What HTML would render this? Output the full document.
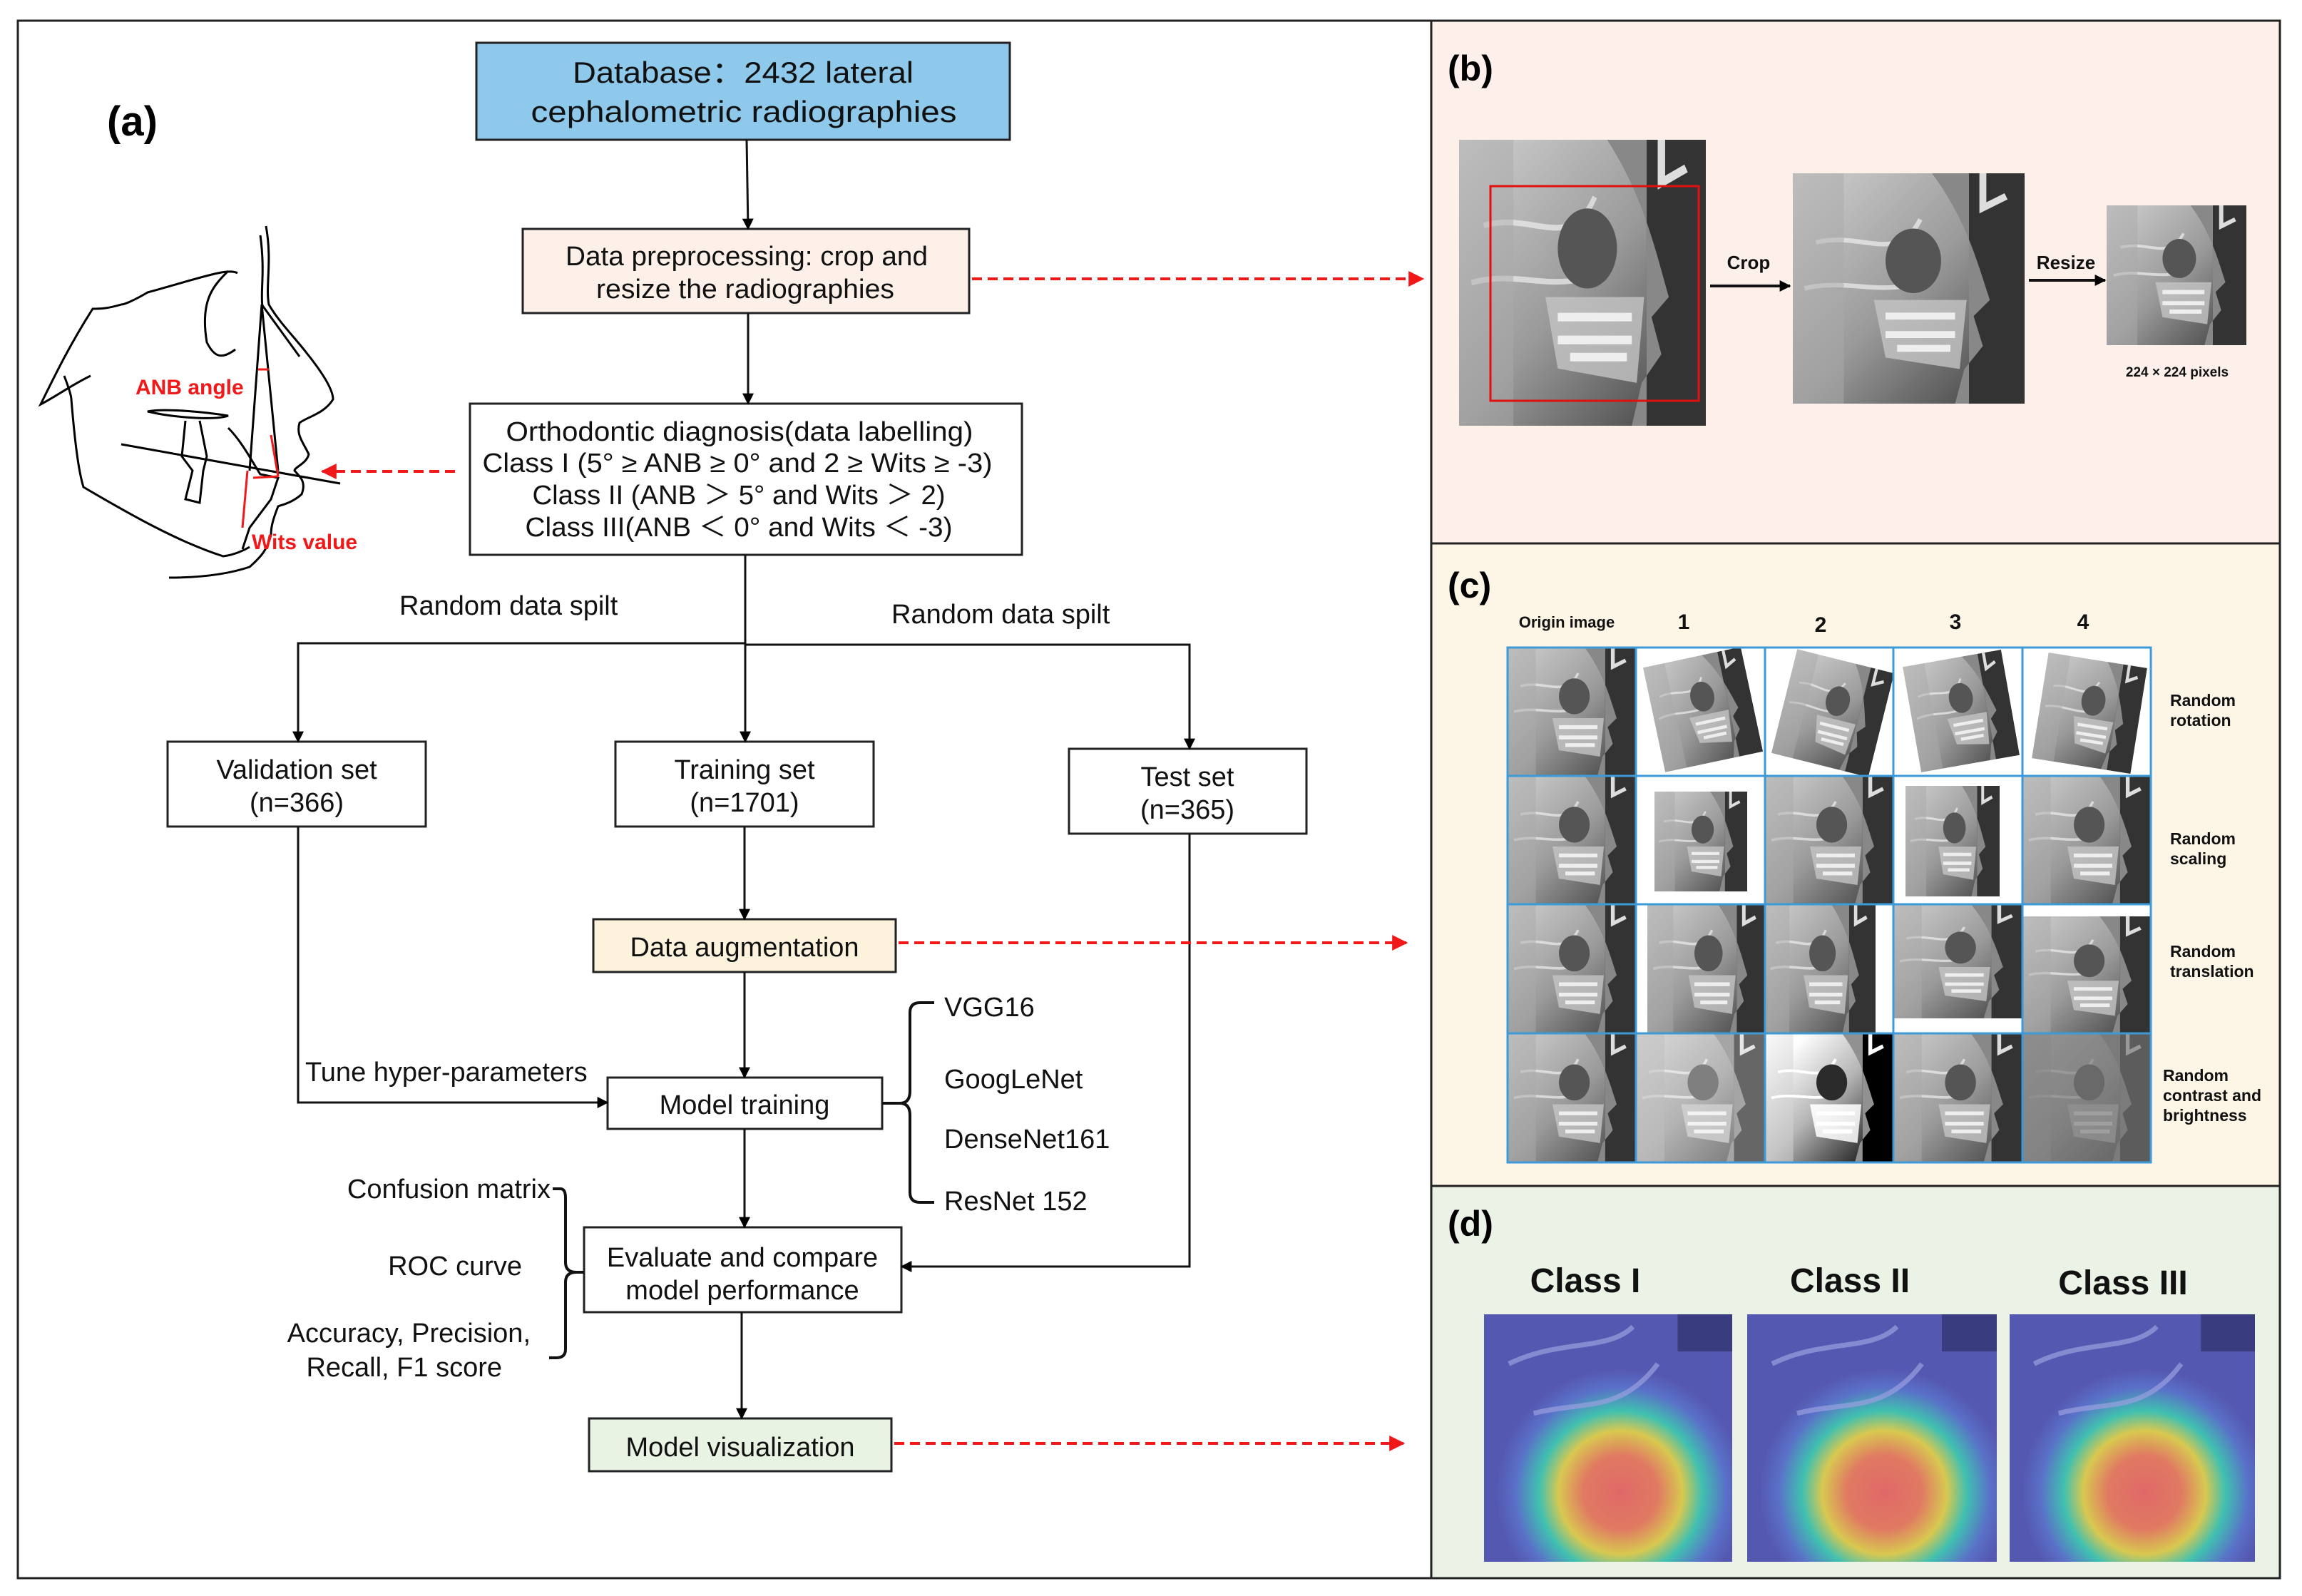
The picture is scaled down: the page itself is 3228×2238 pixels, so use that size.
<!DOCTYPE html>
<html><head><meta charset="utf-8"><style>html,body{margin:0;padding:0;background:#fff}svg{display:block}</style></head>
<body>
<svg width="3228" height="2238" viewBox="0 0 3228 2238" xmlns="http://www.w3.org/2000/svg" font-family="'Liberation Sans Narrow','Liberation Sans',sans-serif">
<defs>
<marker id="ak" viewBox="0 0 10 10" refX="9" refY="5" markerWidth="16" markerHeight="16" markerUnits="userSpaceOnUse" orient="auto"><path d="M0,0L10,5L0,10z" fill="#000"/></marker>
<marker id="ar" viewBox="0 0 10 10" refX="9" refY="5" markerWidth="22" markerHeight="22" markerUnits="userSpaceOnUse" orient="auto"><path d="M0,0L10,5L0,10z" fill="#f01818"/></marker>
<linearGradient id="xg" x1="0" y1="0" x2="1" y2="1"><stop offset="0" stop-color="#d0d0d0"/><stop offset="0.5" stop-color="#9a9a9a"/><stop offset="1" stop-color="#3a3a3a"/></linearGradient>
<radialGradient id="hm" cx="0.55" cy="0.72" r="0.5"><stop offset="0" stop-color="#e06868"/><stop offset="0.3" stop-color="#e07a62"/><stop offset="0.5" stop-color="#d8c850"/><stop offset="0.66" stop-color="#40c0b0"/><stop offset="0.85" stop-color="#5a70c8"/><stop offset="1" stop-color="#5558b0"/></radialGradient>
<symbol id="xr" viewBox="0 0 100 100" preserveAspectRatio="none">
<rect width="100" height="100" fill="url(#xg)"/>
<rect x="76" y="0" width="24" height="100" fill="#333"/>
<path d="M60,0 C75,20 80,40 85,55 L78,62 L82,75 L74,85 L70,100 L76,100 L76,0z" fill="#888"/>
<path d="M10,30 C30,25 45,40 55,20 M5,50 C25,45 40,55 60,45" stroke="#eee" stroke-width="2" fill="none" opacity="0.7"/>
<ellipse cx="52" cy="38" rx="12" ry="14" fill="#555"/>
<path d="M35,55 L75,55 L72,85 L40,80z" fill="#c4c4c4" opacity="0.8"/>
<path d="M40,62 L70,62 M40,70 L70,70 M45,76 L68,76" stroke="#eee" stroke-width="3"/>
<rect x="0" y="0" width="22" height="100" fill="#aaa" opacity="0.5"/>
<path d="M82,0 L82,15 L92,10" stroke="#ddd" stroke-width="3" fill="none"/>
</symbol>
<symbol id="hmap" viewBox="0 0 100 100" preserveAspectRatio="none">
<rect width="100" height="100" fill="url(#hm)"/>
<path d="M10,20 C30,10 50,15 60,5 M20,40 C40,35 55,40 70,20" stroke="#9aa0e0" stroke-width="2" fill="none" opacity="0.7"/>
<rect x="78" y="0" width="22" height="15" fill="#3a3c80"/>
</symbol>
</defs>

<rect x="25" y="29" width="1982" height="2184" fill="#fff" stroke="#222" stroke-width="3"/>
<rect x="2007" y="29" width="1190" height="733" fill="#fdf0ea" stroke="#222" stroke-width="3"/>
<rect x="2007" y="762" width="1190" height="901" fill="#fdf6e6" stroke="#222" stroke-width="3"/>
<rect x="2007" y="1663" width="1190" height="550" fill="#eaf3e6" stroke="#222" stroke-width="3"/>

<text x="150" y="190" font-family="'Liberation Sans',sans-serif" font-weight="bold" font-size="58">(a)</text>

<g fill="none" stroke="#000" stroke-width="3">
<path d="M373,317 C382,367 372,400 377,427 C390,450 413,473 430,495 C450,520 467,545 467,560 C455,580 430,585 420,593 C415,610 425,620 433,637 C430,650 413,655 413,660 C420,668 430,675 423,693 C410,705 395,708 390,710 C382,730 380,740 380,750 C375,770 367,780 350,795 C320,805 280,810 237,810"/>
<path d="M365,330 C372,380 365,410 368,430"/>
<path d="M333,383 C320,375 280,390 207,410 C190,420 175,427 170,427 C150,433 140,433 130,433 C100,480 80,520 57,567 C80,555 100,540 127,527"/>
<path d="M320,380 C300,400 280,420 290,480 C300,500 310,505 330,490"/>
<path d="M90,527 C95,540 100,555 100,560 C105,620 110,660 117,683 C180,720 250,760 313,780 C330,778 345,770 350,767"/>
<path d="M170,623 L477,678"/>
<path d="M367,427 L350,660 M367,427 L390,660 M367,427 L420,500"/>
<path d="M207,577 C230,572 290,578 320,583 C300,590 240,585 207,577z"/>
<path d="M260,590 L255,640 L270,660 L260,700 L280,705 L285,660 L290,640 L280,590"/>
<path d="M320,600 C340,620 355,650 365,665 L390,670 L380,700 L350,740 L340,770"/>
</g>
<g stroke="#f01818" stroke-width="3" fill="none"><path d="M355,670 L390,668 M380,610 L390,668 M347,660 L340,740 M362,518 L377,518"/></g>
<text x="190" y="553" fill="#f01818" font-family="'Liberation Sans',sans-serif" font-weight="bold" font-size="30">ANB angle</text>
<text x="353" y="770" fill="#f01818" font-family="'Liberation Sans',sans-serif" font-weight="bold" font-size="30">Wits value</text>

<g stroke="#222" stroke-width="3">
<rect x="668" y="60" width="748" height="136" fill="#8ec8ea"/>
<rect x="733" y="321" width="626" height="118" fill="#fdf0e8"/>
<rect x="659" y="566" width="774" height="212" fill="#fff"/>
<rect x="235" y="1040" width="362" height="119" fill="#fff"/>
<rect x="863" y="1040" width="362" height="119" fill="#fff"/>
<rect x="1499" y="1050" width="333" height="119" fill="#fff"/>
<rect x="832" y="1289" width="424" height="74" fill="#fdf3dc"/>
<rect x="852" y="1511" width="385" height="72" fill="#fff"/>
<rect x="819" y="1721" width="445" height="119" fill="#fff"/>
<rect x="826" y="1989" width="424" height="74" fill="#e8f3e4"/>
</g>
<g font-size="42" text-anchor="middle" fill="#111">
<text x="1042" y="116" textLength="478" lengthAdjust="spacingAndGlyphs">Database：2432 lateral</text>
<text x="1043" y="171" textLength="597" lengthAdjust="spacingAndGlyphs">cephalometric radiographies</text>
</g>
<g font-size="38" text-anchor="middle" fill="#111">
<text x="1047" y="372" textLength="508" lengthAdjust="spacingAndGlyphs">Data preprocessing: crop and</text>
<text x="1045" y="418" textLength="418" lengthAdjust="spacingAndGlyphs">resize the radiographies</text>
<text x="1037" y="618" textLength="655" lengthAdjust="spacingAndGlyphs">Orthodontic diagnosis(data labelling)</text>
<text x="1034" y="662" textLength="715" lengthAdjust="spacingAndGlyphs">Class I (5° ≥ ANB ≥ 0° and 2 ≥ Wits ≥ -3)</text>
<text x="1036" y="707" textLength="579" lengthAdjust="spacingAndGlyphs">Class II (ANB ＞ 5° and Wits ＞ 2)</text>
<text x="1036" y="752" textLength="599" lengthAdjust="spacingAndGlyphs">Class III(ANB ＜ 0° and Wits ＜ -3)</text>
<text x="416" y="1092">Validation set</text>
<text x="416" y="1138">(n=366)</text>
<text x="1044" y="1092">Training set</text>
<text x="1044" y="1138">(n=1701)</text>
<text x="1665" y="1102">Test set</text>
<text x="1665" y="1148">(n=365)</text>
<text x="1044" y="1341">Data augmentation</text>
<text x="1044" y="1562">Model training</text>
<text x="1041" y="1776">Evaluate and compare</text>
<text x="1041" y="1822">model performance</text>
<text x="1038" y="2042">Model visualization</text>
</g>
<g font-size="38" fill="#111">
<text x="560" y="862">Random data spilt</text>
<text x="1250" y="874">Random data spilt</text>
<text x="428" y="1516">Tune hyper-parameters</text>
<text x="1324" y="1425">VGG16</text>
<text x="1324" y="1526">GoogLeNet</text>
<text x="1324" y="1610">DenseNet161</text>
<text x="1324" y="1697">ResNet 152</text>
</g>
<g font-size="38" fill="#111" text-anchor="end">
<text x="772" y="1680">Confusion matrix</text>
<text x="732" y="1788">ROC curve</text>
<text x="744" y="1882">Accuracy, Precision,</text>
<text x="704" y="1930">Recall, F1 score</text>
</g>

<g stroke="#111" stroke-width="3" fill="none" marker-end="url(#ak)">
<line x1="1047" y1="196" x2="1049" y2="321"/>
<line x1="1049" y1="439" x2="1049" y2="566"/>
<line x1="1045" y1="778" x2="1045" y2="1040"/>
<polyline points="1045,902 418,902 418,1040"/>
<polyline points="1045,904 1668,904 1668,1050"/>
<line x1="1044" y1="1159" x2="1044" y2="1289"/>
<line x1="1044" y1="1363" x2="1044" y2="1511"/>
<polyline points="418,1159 418,1546 852,1546"/>
<line x1="1044" y1="1583" x2="1044" y2="1721"/>
<polyline points="1668,1169 1668,1776 1264,1776"/>
<line x1="1040" y1="1840" x2="1040" y2="1989"/>
</g>
<g stroke="#111" stroke-width="4" fill="none">
<path d="M1237,1547 L1262,1547 M1262,1547 Q1276,1547 1276,1530 L1276,1420 Q1276,1406 1290,1406 L1310,1406 M1262,1547 Q1276,1547 1276,1564 L1276,1672 Q1276,1686 1290,1686 L1310,1686"/>
<path d="M775,1667 L786,1667 Q793,1667 793,1680 L793,1770 Q793,1784 808,1784 L819,1784 M808,1784 Q793,1784 793,1798 L793,1892 Q793,1904 780,1904 L770,1904"/>
</g>
<g stroke="#f01818" stroke-width="4" stroke-dasharray="14,8" fill="none" marker-end="url(#ar)">
<line x1="1363" y1="391" x2="1995" y2="391"/>
<line x1="638" y1="661" x2="452" y2="661"/>
<line x1="1260" y1="1322" x2="1972" y2="1322"/>
<line x1="1254" y1="2024" x2="1968" y2="2024"/>
</g>

<g font-family="'Liberation Sans',sans-serif" font-weight="bold">
<text x="2030" y="113" font-size="50">(b)</text>
<text x="2030" y="838" font-size="50">(c)</text>
<text x="2030" y="1733" font-size="50">(d)</text>
</g>
<use href="#xr" x="2046" y="196" width="346" height="401"/>
<rect x="2090" y="261" width="292" height="301" fill="none" stroke="#e01010" stroke-width="3"/>
<use href="#xr" x="2514" y="243" width="325" height="323"/>
<use href="#xr" x="2954" y="288" width="196" height="196"/>
<g stroke="#111" stroke-width="4" marker-end="url(#ak)"><line x1="2398" y1="401" x2="2510" y2="401"/><line x1="2845" y1="393" x2="2952" y2="393"/></g>
<g font-family="'Liberation Sans',sans-serif" font-weight="bold" fill="#111">
<text x="2452" y="377" font-size="26" text-anchor="middle">Crop</text>
<text x="2897" y="377" font-size="26" text-anchor="middle">Resize</text>
<text x="3053" y="528" font-size="19" text-anchor="middle">224 × 224 pixels</text>
</g>

<g font-family="'Liberation Sans',sans-serif" font-weight="bold" fill="#111">
<text x="2197" y="880" font-size="22" text-anchor="middle">Origin image</text>
<text x="2361" y="882" font-size="30" text-anchor="middle">1</text>
<text x="2553" y="886" font-size="30" text-anchor="middle">2</text>
<text x="2742" y="882" font-size="30" text-anchor="middle">3</text>
<text x="2921" y="882" font-size="30" text-anchor="middle">4</text>
<g font-size="23">
<text x="3043" y="990">Random</text><text x="3043" y="1018">rotation</text>
<text x="3043" y="1184">Random</text><text x="3043" y="1212">scaling</text>
<text x="3043" y="1342">Random</text><text x="3043" y="1370">translation</text>
<text x="3033" y="1516">Random</text><text x="3033" y="1544">contrast and</text><text x="3033" y="1572">brightness</text>
</g>
</g>
<rect x="2114" y="908" width="902" height="722" fill="#fff"/>
<use href="#xr" x="2114" y="908" width="180" height="180"/>
<use href="#xr" x="2318" y="920" width="140" height="150" transform="rotate(-12 2388 995)"/>
<use href="#xr" x="2500" y="925" width="140" height="150" transform="rotate(14 2570 1000)"/>
<use href="#xr" x="2680" y="922" width="140" height="150" transform="rotate(-10 2750 997)"/>
<use href="#xr" x="2860" y="925" width="140" height="150" transform="rotate(9 2930 1000)"/>
<use href="#xr" x="2114" y="1088" width="180" height="180"/>
<use href="#xr" x="2320" y="1110" width="130" height="140"/>
<use href="#xr" x="2475" y="1088" width="180" height="180"/>
<use href="#xr" x="2672" y="1102" width="132" height="155"/>
<use href="#xr" x="2836" y="1088" width="180" height="180"/>
<use href="#xr" x="2114" y="1268" width="180" height="181"/>
<use href="#xr" x="2310" y="1268" width="165" height="181"/>
<use href="#xr" x="2475" y="1268" width="155" height="181"/>
<use href="#xr" x="2655" y="1268" width="181" height="160"/>
<use href="#xr" x="2836" y="1285" width="180" height="164"/>
<use href="#xr" x="2114" y="1449" width="180" height="181"/>
<use href="#xr" x="2294" y="1449" width="181" height="181" opacity="0.75"/>
<g><use href="#xr" x="2475" y="1449" width="180" height="181" style="filter:contrast(2)"/></g>
<use href="#xr" x="2655" y="1449" width="181" height="181"/>
<g opacity="0.55"><use href="#xr" x="2836" y="1449" width="180" height="181"/></g>
<rect x="2836" y="1449" width="180" height="181" fill="#000" opacity="0.35"/>
<g stroke="#3d9ad8" stroke-width="3" fill="none">
<rect x="2114" y="908" width="902" height="722"/>
<path d="M2294,908V1630M2475,908V1630M2655,908V1630M2836,908V1630M2114,1088H3016M2114,1268H3016M2114,1449H3016"/>
</g>

<g font-family="'Liberation Sans',sans-serif" font-weight="bold" font-size="48" fill="#111" text-anchor="middle">
<text x="2223" y="1812">Class I</text>
<text x="2594" y="1812">Class II</text>
<text x="2977" y="1815">Class III</text>
</g>
<use href="#hmap" x="2081" y="1843" width="348" height="347"/>
<use href="#hmap" x="2450" y="1843" width="350" height="347"/>
<use href="#hmap" x="2818" y="1843" width="344" height="347"/>
</svg>
</body></html>
